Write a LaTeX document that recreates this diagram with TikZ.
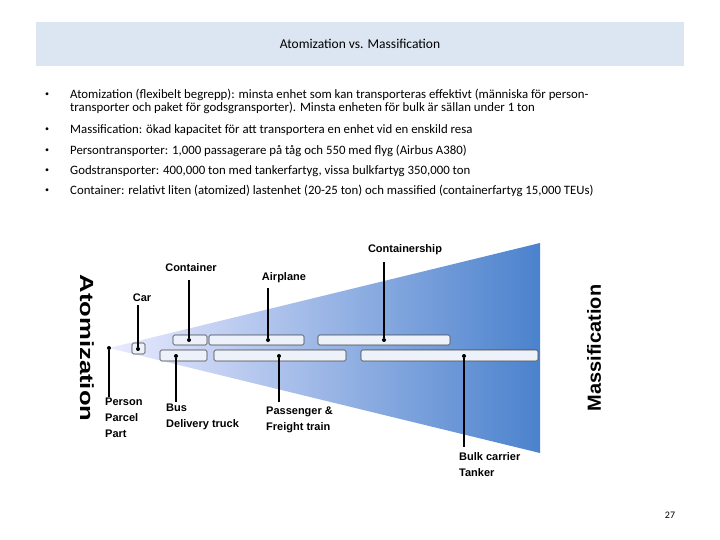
\documentclass[tikz,border=0pt]{standalone}
\usepackage{fontspec}
\setmainfont{Carlito}
\newfontfamily\lab{Liberation Sans}
\definecolor{hdr}{RGB}{220,230,242}
\definecolor{dblue}{RGB}{75,130,205}
\definecolor{lblue}{RGB}{236,241,250}
\begin{document}
\begin{tikzpicture}[x=1pt,y=-1pt,
  bx/.style={draw=black!75,fill=lblue,rounded corners=1.5pt,line width=0.6pt},
  dt/.style={circle,fill=black,inner sep=0pt,minimum size=4pt},
  ln/.style={line width=1.1pt},
  lb/.style={font=\lab\bfseries\fontsize{11}{13}\selectfont,inner sep=0pt,align=left},
  bul/.style={font=\fontsize{12.8}{13}\selectfont,inner sep=0pt,anchor=west},
  dot/.style={font=\fontsize{8}{8}\selectfont,inner sep=0pt}]
\useasboundingbox (0,0) rectangle (720,540);
\fill[white] (0,0) rectangle (720,540);
\fill[hdr] (36,22) rectangle (684,66);
\node[font=\fontsize{13.5}{15}\selectfont] (title) at (360,44) {Atomization vs. Massification};
\foreach \y in {95,130,151,171,191}{\node[dot] at (47,\y) {•};}
\node[bul] (b1) at (70,95) {Atomization (flexibelt begrepp): minsta enhet som kan transporteras effektivt (människa för person-};
\node[bul] (b1b) at (70,108) {transporter och paket för godsgransporter). Minsta enheten för bulk är sällan under 1 ton};
\node[bul] (b2) at (70,130) {Massification: ökad kapacitet för att transportera en enhet vid en enskild resa};
\node[bul] (b3) at (70,151) {Persontransporter: 1,000 passagerare på tåg och 550 med flyg (Airbus A380)};
\node[bul] (b4) at (70,171) {Godstransporter: 400,000 ton med tankerfartyg, vissa bulkfartyg 350,000 ton};
\node[bul] (b5) at (70,191) {Container: relativt liten (atomized) lastenhet (20-25 ton) och massified (containerfartyg 15,000 TEUs)};
\shade[left color=white!92!blue,right color=dblue] (109,348) -- (540,243) -- (540,453) -- cycle;
% boxes
\draw[bx] (132,343) rectangle (145,354);
\draw[bx] (173,335) rectangle (207,345);
\draw[bx] (209,335) rectangle (304,345);
\draw[bx] (318,335) rectangle (450,345);
\draw[bx] (160,350) rectangle (207,361);
\draw[bx] (214,350) rectangle (346,361);
\draw[bx] (361,350) rectangle (538,361);
% dots
\node[dt] (pp) at (109,348) {};
\node[dt] (car) at (138,349) {};
\node[dt] (cont) at (189,340) {};
\node[dt] (air) at (268,340) {};
\node[dt] (cs) at (384,340) {};
\node[dt] (bus) at (176,356) {};
\node[dt] (tr) at (279,356) {};
\node[dt] (bk) at (464,356) {};
% endpoints
\coordinate (pp2) at (109,397);
\coordinate (car2) at (138,305);
\coordinate (cont2) at (189,280);
\coordinate (air2) at (268,288);
\coordinate (cs2) at (384,262);
\coordinate (bus2) at (176,402);
\coordinate (tr2) at (279,402);
\coordinate (bk2) at (464,447);
\foreach \a in {pp,car,cont,air,cs,bus,tr,bk}{\draw[ln] (\a) -- (\a2);}
% labels
\node[lb] (lcs) at (405,250) {Containership};
\node[lb] (lcont) at (191,268) {Container};
\node[lb] (lair) at (284,278) {Airplane};
\node[lb] (lcar) at (142,298) {Car};
\node[lb,anchor=north west,font=\lab\bfseries\fontsize{11}{16}\selectfont] (lpp) at (105,398) {Person\\Parcel\\Part};
\node[lb,anchor=north west,font=\lab\bfseries\fontsize{11}{16}\selectfont] (lbus) at (166,404) {Bus\\Delivery truck};
\node[lb,anchor=north west,font=\lab\bfseries\fontsize{11}{16}\selectfont] (ltr) at (266,407) {Passenger \&\\Freight train};
\node[lb,anchor=north west,font=\lab\bfseries\fontsize{11}{16}\selectfont] (lbk) at (459,452) {Bulk carrier\\Tanker};
\node[font=\lab\bfseries\fontsize{19}{21}\selectfont,rotate=-90] (atom) at (87,348) {\scalebox{1.35}[1]{Atomization}};
\node[font=\lab\bfseries\fontsize{19}{21}\selectfont,rotate=90] (mass) at (594,348) {\scalebox{1.05}[1]{Massification}};
\node[font=\fontsize{10}{11}\selectfont] (pg) at (670,515) {27};
\end{tikzpicture}
\end{document}
